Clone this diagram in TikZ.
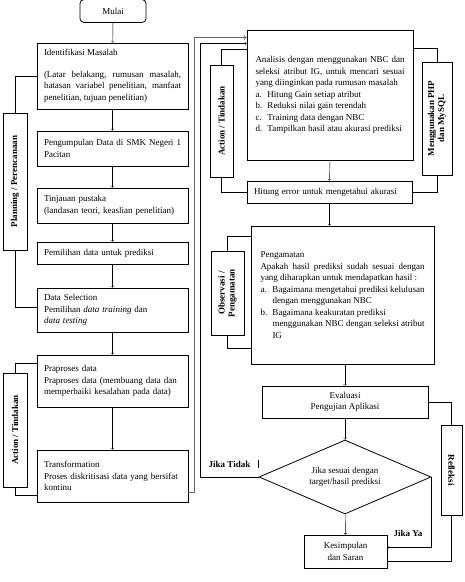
\documentclass[tikz,border=0pt]{standalone}
\usepackage{fontspec}
\setmainfont{Liberation Serif}
\usetikzlibrary{positioning}
\usetikzlibrary{shapes.geometric}
\usetikzlibrary{arrows}

\begin{document}
\begin{tikzpicture}[
            x = 1pt, y = -1pt, % pixel grid, y runs down
            > = to, % arrow head style
            thin, % line style
            font = \fontsize{9}{11.5}\selectfont
        ]

        \tikzset{
            box/.style = {draw, thick, inner xsep = 7pt, inner ysep = 1pt, align = left},
            justbox/.style = {box, align = justify},
            midbox/.style = {box, align = center},
            sidebox/.style = {draw, thick, inner sep = 0pt, font = \fontsize{9}{10}\selectfont\bfseries},
            tag/.style = {inner sep = 1pt, font = \fontsize{9}{10}\selectfont\bfseries}
        }

        \useasboundingbox (0,0) rectangle (464,582);

	% planning and action, left column
        \node[midbox, rounded corners = 4pt, minimum width = 66pt, minimum height = 23pt] (mulai) at (113,11) {Mulai};
        \node[justbox, text width = 137pt, minimum height = 66pt] (masalah) at (112.5,76)
            {Identifikasi Masalah\\[10pt] (Latar belakang, rumusan masalah,\linebreak batasan variabel penelitian, manfaat\linebreak penelitian, tujuan penelitian)};
        \node[justbox, text width = 137pt, minimum height = 35pt] (kumpul) at (112.5,148.5)
            {Pengumpulan Data di SMK Negeri 1\linebreak Pacitan};
        \node[box, text width = 137pt, minimum height = 35pt] (tinjau) at (112.5,205.5)
            {Tinjauan pustaka\\ (landasan teori, keaslian penelitian)};
        \node[box, text width = 137pt, minimum height = 22pt] (pilih) at (112.5,253)
            {Pemilihan data untuk prediksi};
        \node[box, text width = 137pt, minimum height = 44pt] (seleksi) at (112.5,310)
            {Data Selection\\ Pemilihan \textit{data training} dan\\ \textit{data testing}};
        \node[box, text width = 137pt, minimum height = 52pt] (praproses) at (112.5,381)
            {Praproses data\\ Praproses data (membuang data dan\\ memperbaiki kesalahan pada data)};
        \node[box, text width = 137pt, minimum height = 52pt] (trans) at (112.5,476)
            {Transformation\\ Proses diskritisasi data yang bersifat\\ kontinu};

        \node[sidebox, minimum width = 24pt, minimum height = 137pt] (plan) at (15,181.5)
            {\rotatebox{90}{Planning / Perencanaan}};
        \node[sidebox, minimum width = 24pt, minimum height = 114pt] (act1) at (15,430)
            {\rotatebox{90}{Action / Tindakan}};

        \path[->] (mulai) edge (masalah)
                  (masalah) edge (kumpul)
                  (kumpul) edge (tinjau)
                  (tinjau) edge (pilih)
                  (pilih) edge (seleksi)
                  (seleksi) edge (praproses)
                  (praproses) edge (trans);

        \draw (plan.north) |- (masalah.west);
        \draw (plan.south) |- ([yshift=3pt]seleksi.west);
        \draw (act1.north) |- ([yshift=-9pt]praproses.north west);
        \draw (act1.south) |- ([yshift=7pt]trans.south west);

	% action, right column
        \node[justbox, text width = 149pt, minimum width = 166pt, minimum height = 130pt] (ana) at (330,95)
            {Analisis dengan menggunakan NBC dan\linebreak seleksi atribut IG, untuk mencari sesuai\linebreak yang diinginkan pada rumusan masalah\\
             \makebox[12pt][l]{a.}Hitung Gain setiap atribut\\
             \makebox[12pt][l]{b.}Reduksi nilai gain terendah\\
             \makebox[12pt][l]{c.}Training data dengan NBC\\
             \makebox[12pt][l]{d.}Tampilkan hasil atau akurasi prediksi};
        \node[box, text width = 151pt, minimum height = 22pt] (hitung) at (329.5,192)
            {Hitung error untuk mengetahui akurasi};

        \node[sidebox, minimum width = 23pt, minimum height = 112pt] (act2) at (221.5,121)
            {\rotatebox{90}{Action / Tindakan}};
        \node[sidebox, minimum width = 30pt, minimum height = 113pt] (php) at (437,118.5)
            {\rotatebox{90}{\begin{tabular}{@{}c@{}}Menggunakan PHP\\ dan MySQL\end{tabular}}};

        \draw[->] (ana.south) -- (hitung.north);
        \draw (act2.north) |- ([yshift=-20pt]ana.north west);
        \draw (act2.south) |- (hitung.west);
        \draw (php.north) |- ([yshift=-19pt]ana.north east);
        \draw (php.south) |- (hitung.east);

	% observation
        \node[justbox, text width = 164pt, minimum width = 183pt, minimum height = 138pt] (peng) at (342.5,295)
            {Pengamatan\\ Apakah hasil prediksi sudah sesuai dengan\linebreak yang diharapkan untuk mendapatkan hasil :\\
             \makebox[12pt][l]{a.}Bagaimana mengetahui prediksi kelulusan\linebreak \hspace*{12pt}dengan menggunakan NBC\\
             \makebox[12pt][l]{b.}Bagaimana keakuratan prediksi\\ \hspace*{12pt}menggunakan NBC dengan seleksi atribut\linebreak \hspace*{12pt}IG};
        \node[sidebox, minimum width = 33pt, minimum height = 84pt] (obs) at (227.5,293)
            {\rotatebox{90}{\begin{tabular}{@{}c@{}}Observasi /\\ Pengamatan\end{tabular}}};

        \draw[->] (hitung.south) -- (hitung.south |- peng.north);
        \draw (obs.north) |- ([yshift=-11pt]peng.north west);
        \draw (obs.south) |- ([yshift=16pt]peng.south west);

	% reflection
        \node[midbox, minimum width = 166pt, minimum height = 32pt] (eval) at (345,402)
            {Evaluasi\\ Pengujian Aplikasi};
        \node[draw, thick, diamond, aspect = 2.3, inner sep = 0pt, align = center,
              minimum width = 172pt, minimum height = 74pt] (dec) at (345,477)
            {Jika sesuai dengan\\ target/hasil prediksi};
        \node[midbox, minimum width = 83pt, minimum height = 33pt] (kes) at (345.5,551.5)
            {Kesimpulan\\ dan Saran};
        \node[sidebox, minimum width = 21pt, minimum height = 90pt] (ref) at (451.5,470)
            {\rotatebox{-90}{Refleksi}};

        \node[tag] (tidak) at (229.5,464) {Jika Tidak};
        \node[tag] (ya) at (408,533) {Jika Ya};
        \draw[thick] ([xshift=7pt]tidak.north east) -- ([xshift=7pt]tidak.south east);

        \draw[->] (eval.north |- peng.south) -- (eval.north);
        \draw[->] (eval) -- (dec);
        \draw[->] (dec) -- (kes);
        \draw[->] (dec.east) |- ([yshift=4pt]kes.east);
        \draw (ref.north) |- (eval.east);
        \draw (ref.south) |- ([yshift=-10pt]kes.east);

	% back to analysis
        \draw[->, black!60, line width = 0.9pt] ([yshift=-16pt]trans.east)
            -| ([xshift=-52pt,yshift=-8pt]ana.north west) -- ([yshift=-8pt]ana.north west);
        \draw[->] (dec.west) -| ([xshift=-46pt,yshift=-14pt]ana.north west)
            -- ([yshift=-14pt]ana.north west);

\end{tikzpicture}
\end{document}
